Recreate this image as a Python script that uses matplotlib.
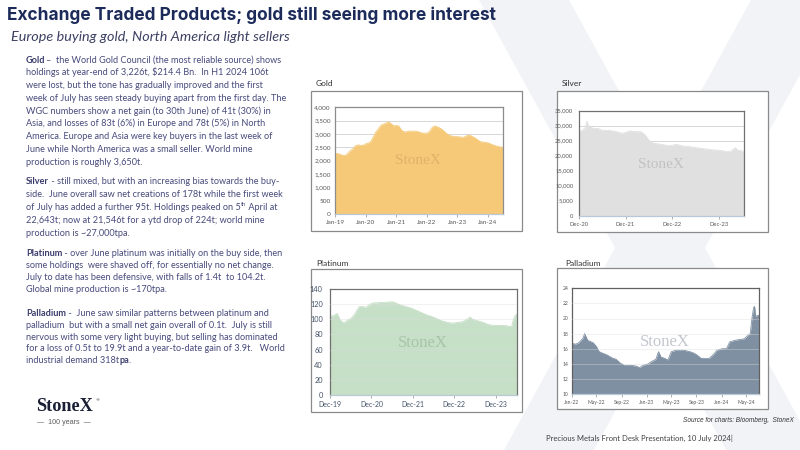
import matplotlib
matplotlib.use('Agg')
import matplotlib.pyplot as plt
from matplotlib.patches import Polygon, Rectangle
import pandas as pd

# ---------------- data ----------------
gold_start = '2019-01-01'
gold_vals = [2260, 2270, 2230, 2200, 2190, 2280, 2380, 2450, 2560, 2590, 2570, 2580,
             2630, 2660, 2720, 2900, 3080, 3200, 3330, 3370, 3410, 3450, 3380, 3300,
             3320, 3290, 3150, 3080, 3080, 3110, 3100, 3110, 3100, 3070, 3040, 3030,
             3030, 3090, 3230, 3300, 3270, 3230, 3170, 3080, 3000, 2940, 2920, 2900,
             2900, 2890, 2870, 2900, 2940, 2950, 2900, 2850, 2780, 2710, 2700, 2680,
             2670, 2630, 2590, 2560, 2530, 2510, 2500]
gold_xticks = ['2019-01-01', '2020-01-01', '2021-01-01', '2022-01-01', '2023-01-01', '2024-01-01']
gold_xlabels = ['Jan-19', 'Jan-20', 'Jan-21', 'Jan-22', 'Jan-23', 'Jan-24']
gold_yticks = [0, 500, 1000, 1500, 2000, 2500, 3000, 3500, 4000]

silver_dates = ['2020-12-01', '2020-12-15', '2021-01-01', '2021-01-20', '2021-02-03', '2021-02-15',
                '2021-03-01', '2021-04-01', '2021-05-01', '2021-06-01', '2021-07-01', '2021-08-01',
                '2021-09-01', '2021-10-01', '2021-11-01', '2021-12-01', '2022-01-01', '2022-02-01',
                '2022-03-01', '2022-04-01', '2022-05-01', '2022-06-01', '2022-07-01', '2022-08-01',
                '2022-09-01', '2022-10-01', '2022-11-01', '2022-12-01', '2023-01-01', '2023-02-01',
                '2023-03-01', '2023-04-01', '2023-05-01', '2023-06-01', '2023-07-01', '2023-08-01',
                '2023-09-01', '2023-10-01', '2023-11-01', '2023-12-01', '2024-01-01', '2024-02-01',
                '2024-03-01', '2024-04-05', '2024-04-20', '2024-05-01', '2024-06-01', '2024-06-15']
silver_vals = [27800, 28300, 28600, 29300, 31500, 30000,
               29500, 29000, 29100, 28500, 28400, 28400,
               28200, 27900, 27500, 27700, 28300, 28100,
               28000, 28000, 26900, 25200, 24300, 24000,
               23800, 23600, 23300, 23500, 23800, 23400,
               23200, 23100, 22900, 22700, 22500, 22300,
               22200, 22000, 21900, 21800, 21600, 21300,
               21500, 22650, 21900, 21800, 21500, 21550]
silver_xticks = ['2020-12-01', '2021-12-01', '2022-12-01', '2023-12-01']
silver_xlabels = ['Dec-20', 'Dec-21', 'Dec-22', 'Dec-23']
silver_yticks = [0, 5000, 10000, 15000, 20000, 25000, 30000, 35000]

plat_dates = ['2019-12-01', '2020-01-01', '2020-02-01', '2020-03-01', '2020-04-01', '2020-05-01',
              '2020-06-01', '2020-07-01', '2020-08-15', '2020-09-15', '2020-10-15', '2020-11-15',
              '2020-12-15', '2021-01-15', '2021-03-01', '2021-05-01', '2021-06-01', '2021-07-01',
              '2021-08-15', '2021-10-01', '2021-11-15', '2022-01-01', '2022-02-15', '2022-04-01',
              '2022-05-15', '2022-07-01', '2022-08-15', '2022-10-01', '2022-11-15', '2023-01-01',
              '2023-02-15', '2023-04-01', '2023-04-20', '2023-05-15', '2023-07-01', '2023-08-15',
              '2023-10-01', '2023-11-15', '2024-01-01', '2024-02-15', '2024-04-01', '2024-04-20',
              '2024-05-05', '2024-05-20', '2024-06-05']
plat_vals = [104, 105, 108, 99, 95, 99,
             101, 106, 117, 117, 116, 120,
             122, 122, 122.5, 123, 123.5, 122,
             119, 117, 115, 112, 109, 106,
             104, 101, 98, 96, 95, 96,
             97, 101, 103, 100, 98, 96,
             93, 92, 92, 92, 91, 90,
             99, 105, 107]
plat_xticks = ['2019-12-01', '2020-12-01', '2021-12-01', '2022-12-01', '2023-12-01']
plat_xlabels = ['Dec-19', 'Dec-20', 'Dec-21', 'Dec-22', 'Dec-23']
plat_yticks = [0, 20, 40, 60, 80, 100, 120, 140]

pall_dates = ['2022-01-03', '2022-01-20', '2022-02-05', '2022-02-25', '2022-03-05', '2022-03-20',
              '2022-04-15', '2022-05-01', '2022-05-15', '2022-06-01', '2022-06-20', '2022-07-15',
              '2022-08-05', '2022-08-25', '2022-09-15', '2022-10-15', '2022-11-10', '2022-11-28',
              '2022-12-15', '2023-01-10', '2023-01-25', '2023-02-15', '2023-02-28', '2023-03-12',
              '2023-04-01', '2023-04-15', '2023-05-01', '2023-05-25', '2023-07-01', '2023-08-01',
              '2023-08-20', '2023-09-01', '2023-09-25', '2023-11-01', '2023-11-25', '2023-12-10',
              '2024-01-05', '2024-01-25', '2024-02-10', '2024-03-05', '2024-03-25', '2024-04-20',
              '2024-05-10', '2024-05-20', '2024-05-28', '2024-06-05', '2024-06-10', '2024-06-15',
              '2024-06-25', '2024-07-02']
pall_vals = [16.7, 16.6, 16.8, 17.4, 18.0, 17.1,
             16.8, 16.3, 15.6, 15.4, 15.2, 14.8,
             14.6, 14.1, 13.8, 13.8, 13.7, 13.5,
             13.8, 14.0, 14.3, 14.6, 15.6, 14.9,
             14.7, 14.5, 15.6, 15.8, 15.8, 15.6,
             15.4, 15.2, 14.7, 14.7, 15.3, 15.8,
             16.0, 16.0, 16.9, 17.1, 17.2, 17.3,
             17.8, 18.0, 20.0, 21.4, 21.6, 20.3,
             20.4, 20.4]
pall_xticks = ['2022-01-01', '2022-05-01', '2022-09-01', '2023-01-01', '2023-05-01', '2023-09-01',
               '2024-01-01', '2024-05-01']
pall_xlabels = ['Jan-22', 'May-22', 'Sep-22', 'Jan-23', 'May-23', 'Sep-23', 'Jan-24', 'May-24']
pall_yticks = [10, 12, 14, 16, 18, 20, 22, 24]

title_text = 'Exchange Traded Products; gold still seeing more interest'
subtitle_text = 'Europe buying gold, North America light sellers'

# body: list of paragraphs; each line is a list of runs (text, bold, superscript)
body = [
    [[('Gold', True, False), ('\u2013  the World Gold Council (the most reliable source) shows', False, False)],
     [('holdings at year-end of 3,226t, $214.4 Bn.  In H1 2024 106t', False, False)],
     [('were lost, but the tone has gradually improved and the first', False, False)],
     [('week of July has seen steady buying apart from the first day. The', False, False)],
     [('WGC numbers show a net gain (to 30th June) of 41t (30%) in', False, False)],
     [('Asia, and losses of 83t (6%) in Europe and 78t (5%) in North', False, False)],
     [('America. Europe and Asia were key buyers in the last week of', False, False)],
     [('June while North America was a small seller. World mine', False, False)],
     [('production is roughly 3,650t.', False, False)]],
    [[('Silver', True, False), (' - still mixed, but with an increasing bias towards the buy-', False, False)],
     [('side.  June overall saw net creations of 178t while the first week', False, False)],
     [('of July has added a further 95t. Holdings peaked on 5', False, False), ('th', False, True),
      (' April at', False, False)],
     [('22,643t; now at 21,546t for a ytd drop of 224t; world mine', False, False)],
     [('production is ~27,000tpa.', False, False)]],
    [[('Platinum', True, False), (' - over June platinum was initially on the buy side, then', False, False)],
     [('some holdings  were shaved off, for essentially no net change.', False, False)],
     [('July to date has been defensive, with falls of 1.4t  to 104.2t.', False, False)],
     [('Global mine production is ~170tpa.', False, False)]],
    [[('Palladium', True, False), (' -  June saw similar patterns between platinum and', False, False)],
     [('palladium  but with a small net gain overall of 0.1t.  July is still', False, False)],
     [('nervous with some very light buying, but selling has dominated', False, False)],
     [('for a loss of 0.5t to 19.9t and a year-to-date gain of 3.9t.   World', False, False)],
     [('industrial demand 318t', False, False), ('pa', True, False), ('.', False, False)]],
]
body_line_y = [
    [59.3, 72.0, 84.7, 97.3, 110.3, 123.0, 135.7, 148.7, 161.3],
    [181.0, 194.0, 206.7, 219.7, 232.7],
    [252.3, 264.3, 276.3, 288.3],
    [312.3, 324.3, 336.3, 348.0, 360.0],
]

# ---------------- figure ----------------
W, H = 800, 450
fig = plt.figure(figsize=(8, 4.5), dpi=100)
fig.patch.set_facecolor('white')
renderer = fig.canvas.get_renderer()

BODY = ['Lato', 'DejaVu Sans']


def fx(x):
    return x / W


def fy(y):
    return 1 - y / H


def fit_text(x, y, s, width, ha='left', **kw):
    t = fig.text(fx(x), fy(y), s, fontsize=10, ha=ha, parse_math=False, **kw)
    w = t.get_window_extent(renderer).width
    t.set_fontsize(10 * width / w)
    return t


# faint background X watermark
bg = '#f2f3f7'
for pts in [[(479, 0), (569, 0), (816, 450), (726, 450)],
            [(751, 0), (841, 0), (594, 450), (504, 450)]]:
    fig.add_artist(Polygon([(fx(a), fy(b)) for a, b in pts], closed=True,
                           transform=fig.transFigure, facecolor=bg, edgecolor='none', zorder=0))

# title & subtitle
fit_text(7, 20.5, title_text, 489, va='baseline', color='#1c2b5a',
         family=['Inter', 'DejaVu Sans'], fontweight='bold')
fit_text(11, 41, subtitle_text, 280, va='baseline', color='#3d4263',
         family=BODY, style='italic')

# body text
BODY_COLOR = '#474a7c'
BOLD_COLOR = '#3a3c6c'


def measure_line(runs, fs):
    tot = 0
    for txt, bold, sup in runs:
        t = fig.text(0, 0, txt, fontsize=fs * (0.62 if sup else 1), family=BODY,
                     fontweight='bold' if bold else 'normal', parse_math=False)
        tot += t.get_window_extent(renderer).width
        t.remove()
    return tot


fs_body = 10 * 255 / measure_line(body[0][0], 10)


def draw_line(x, y, runs, fs):
    cx = x
    for txt, bold, sup in runs:
        size = fs * (0.62 if sup else 1)
        yy = y - (fs * 0.45 * 100 / 72 if sup else 0)
        t = fig.text(fx(cx), fy(yy), txt, fontsize=size, family=BODY,
                     fontweight='bold' if bold else 'normal',
                     color=BOLD_COLOR if bold else BODY_COLOR,
                     va='baseline', ha='left', parse_math=False)
        cx += t.get_window_extent(renderer).width


for para, ys in zip(body, body_line_y):
    for runs, yc in zip(para, ys):
        draw_line(26, yc + 3.4, runs, fs_body)

# logo
fit_text(36, 411, 'StoneX', 57, va='baseline', color='#1a1f36',
         family=['Liberation Serif', 'DejaVu Serif'], fontweight='bold')
fig.text(fx(95), fy(400), '\u00ae', fontsize=3, color='#1a1f36', ha='left', va='center')
fit_text(37, 424.5, '\u2014  100 years  \u2014', 54, va='baseline', color='#5a5a5a',
         family=['Liberation Sans Narrow', 'Liberation Sans', 'DejaVu Sans'])

# footer texts
fit_text(794, 421.5, 'Source for charts: Bloomberg,  StoneX', 112, ha='right', va='baseline',
         color='#333333', family=['Liberation Sans', 'DejaVu Sans'], style='italic')
fit_text(546, 440.5, 'Precious Metals Front Desk Presentation, 10 July 2024|', 187,
         va='baseline', color='#404040', family=BODY)


# ---------------- charts ----------------
def chart(name, label_xy, box, plot, dates, vals, color, ylim, yticks, yfmt,
          xticks, xlabels, xlim, wm_xy, wm_color, wm_fs, grid_top, ytick_fs, xtick_fs,
          tick_color, ypad, spine_color):
    bx0, by0, bx1, by1 = box
    fig.add_artist(Rectangle((fx(bx0), fy(by1)), (bx1 - bx0) / W, (by1 - by0) / H,
                             transform=fig.transFigure, facecolor='white',
                             edgecolor='#8a8a8a', lw=0.9, zorder=1))
    fig.text(fx(label_xy[0]), fy(label_xy[1]), name, fontsize=6, family=BODY,
             color='#333333', va='baseline', ha='left', zorder=2)
    px0, py0, px1, py1 = plot
    ax = fig.add_axes([fx(px0), fy(py1), (px1 - px0) / W, (py1 - py0) / H])
    ax.set_zorder(3)
    ax.set_facecolor('white')
    d = pd.to_datetime(dates)
    ax.fill_between(d, vals, ylim[0], color=color, lw=0, zorder=2)
    ax.plot(d, vals, color=color, lw=0.6, zorder=2)
    ax.set_ylim(*ylim)
    ax.set_xlim(pd.Timestamp(xlim[0]), pd.Timestamp(xlim[1]))
    ax.set_yticks(yticks)
    ax.set_yticklabels([yfmt.format(v) for v in yticks])
    ax.set_xticks(pd.to_datetime(xticks))
    ax.set_xticklabels(xlabels)
    for v in yticks[1:-1]:
        ax.axhline(v, color='#d0d0d0' if not grid_top else '#dcdcdc',
                   lw=0.6, alpha=1 if not grid_top else 0.45, zorder=3 if grid_top else 1)
    ax.tick_params(axis='y', length=0, pad=ypad, labelsize=ytick_fs, labelcolor=tick_color)
    ax.tick_params(axis='x', length=2, width=0.6, color='#a0a0a0', pad=2.5,
                   labelsize=xtick_fs, labelcolor=tick_color)
    for lab in ax.get_xticklabels() + ax.get_yticklabels():
        lab.set_family(BODY)
    for sp in ax.spines.values():
        sp.set_color(spine_color)
        sp.set_linewidth(0.9)
    ax.spines['bottom'].set_color('#b8c8d8')
    # watermark
    fig.text(fx(wm_xy[0]), fy(wm_xy[1]), 'StoneX', fontsize=wm_fs, color=wm_color,
             family=['Liberation Serif', 'DejaVu Serif'], ha='center', va='center', zorder=5)
    return ax


chart('Gold', (316, 86), (310.7, 90.7, 522, 231), (335.3, 107.3, 503.3, 214),
      pd.date_range(gold_start, periods=len(gold_vals), freq='MS'), gold_vals, '#F5C978',
      (0, 4000), gold_yticks, '{:,}', gold_xticks, gold_xlabels, ('2019-01-01', '2024-07-03'),
      (418, 160.7), '#dfb36a', 11, False, 4.6, 4.6, '#595959', 3.2, '#8c8c8c')

chart('Silver', (562, 86), (556.7, 90.7, 767.7, 231.7), (578.7, 110.7, 744.3, 215.7),
      silver_dates, silver_vals, '#E0E0E0',
      (0, 35000), silver_yticks, '{:,}', silver_xticks, silver_xlabels,
      ('2020-12-01', '2024-06-13'),
      (660.7, 164), '#c2c2c2', 11, False, 4.2, 4.2, '#595959', 3.8, '#707070')

chart('Platinum', (316, 266), (310.7, 269.3, 521.7, 412), (330, 289.3, 516.7, 394.7),
      plat_dates, plat_vals, '#C6DFC7',
      (0, 140), plat_yticks, '{}', plat_xticks, plat_xlabels, ('2019-12-01', '2024-06-05'),
      (423, 342.7), '#a9c2aa', 12, True, 5.3, 5.0, '#44546a', 5.2, '#707070')

chart('Palladium', (565, 266), (556.7, 268.3, 767.7, 409.3), (571.7, 288.3, 759.3, 394),
      pall_dates, pall_vals, '#7F90A3',
      (10, 24), pall_yticks, '{}', pall_xticks, pall_xlabels, ('2022-01-01', '2024-07-03'),
      (665, 342.3), '#c3c8ce', 12, True, 3.6, 3.6, '#595959', 2.4, '#606060')

fig.savefig('out.png', dpi=100, facecolor='white')
